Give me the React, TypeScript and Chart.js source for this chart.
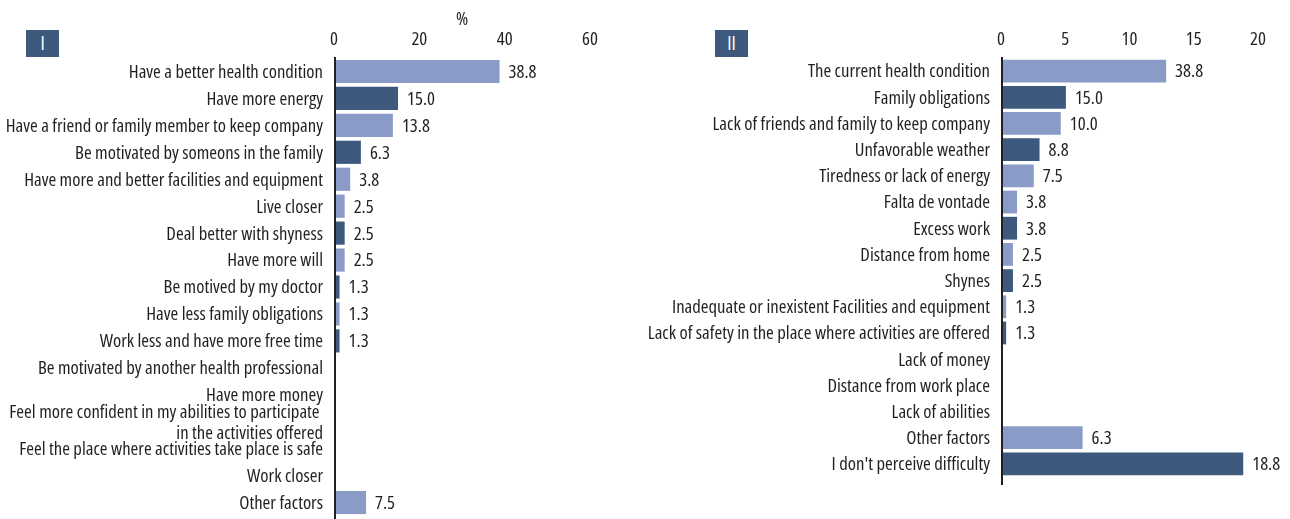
import React, { useEffect, useRef } from "react";
import { Chart, registerables } from "chart.js";

Chart.register(...registerables);

const FAMILY = "'Open Sans', 'DejaVu Sans Condensed', sans-serif";
const FONT_SIZE = 18.7;
const TEXT = "#231f20";
const LIGHT = "#8b9bc7";
const DARK = "#3d5a7e";

// Panel I
const leftCategories: (string | string[])[] = [
  "Have a better health condition",
  "Have more energy",
  "Have a friend or family member to keep company",
  "Be motivated by someons in the family",
  "Have more and better facilities and equipment",
  "Live closer",
  "Deal better with shyness",
  "Have more will",
  "Be motived by my doctor",
  "Have less family obligations",
  "Work less and have more free time",
  "Be motivated by another health professional",
  "Have more money",
  ["Feel more confident in my abilities to participate ", "in the activities offered"],
  "Feel the place where activities take place is safe",
  "Work closer",
  "Other factors",
];
const leftValues = [38.8, 15.0, 13.8, 6.3, 3.8, 2.5, 2.5, 2.5, 1.3, 1.3, 1.3, 0, 0, 0, 0, 0, 7.5];
const leftLabels = ["38.8", "15.0", "13.8", "6.3", "3.8", "2.5", "2.5", "2.5", "1.3", "1.3", "1.3", "", "", "", "", "", "7.5"];
const leftShades = ["L", "D", "L", "D", "L", "L", "D", "L", "D", "L", "D", "L", "L", "L", "L", "L", "L"];
const leftMax = 60;
const leftStep = 20;
const leftAxisTitle = "%";

// Panel II
const rightCategories: (string | string[])[] = [
  "The current health condition",
  "Family obligations",
  "Lack of friends and family to keep company",
  "Unfavorable weather",
  "Tiredness or lack of energy",
  "Falta de vontade",
  "Excess work",
  "Distance from home",
  "Shynes",
  "Inadequate or inexistent Facilities and equipment",
  "Lack of safety in the place where activities are offered",
  "Lack of money",
  "Distance from work place",
  "Lack of abilities",
  "Other factors",
  "I don't perceive difficulty",
];
const rightValues = [12.85, 5.05, 4.65, 3.0, 2.55, 1.25, 1.25, 0.93, 0.93, 0.4, 0.4, 0, 0, 0, 6.35, 18.85];
const rightLabels = ["38.8", "15.0", "10.0", "8.8", "7.5", "3.8", "3.8", "2.5", "2.5", "1.3", "1.3", "", "", "", "6.3", "18.8"];
const rightShades = ["L", "D", "L", "D", "L", "L", "D", "L", "D", "L", "D", "L", "L", "L", "L", "D"];
const rightMax = 20;
const rightStep = 5;

type PanelProps = {
  left: number;
  width: number;
  categories: (string | string[])[];
  values: number[];
  labels: string[];
  shades: string[];
  max: number;
  step: number;
  title?: string;
  yWidth: number;
  xHeight: number;
  padRight: number;
  padBottom: number;
  barPct: number;
  lineExtra: number;
};

function setFont(ctx: CanvasRenderingContext2D) {
  ctx.font = `${FONT_SIZE}px ${FAMILY}`;
  (ctx as any).fontStretch = "condensed";
  ctx.fillStyle = TEXT;
}

function Panel(p: PanelProps) {
  const ref = useRef<HTMLCanvasElement>(null);
  useEffect(() => {
    const texts = {
      id: "texts",
      afterDatasetsDraw(chart: any) {
        const { ctx, chartArea } = chart;
        const xs = chart.scales.x;
        const ys = chart.scales.y;
        const meta = chart.getDatasetMeta(0);
        ctx.save();
        setFont(ctx);
        ctx.textBaseline = "alphabetic";
        const capHalf = 6.4;
        // category labels
        ctx.textAlign = "right";
        p.categories.forEach((c, i) => {
          const y = ys.getPixelForValue(i);
          const lines = Array.isArray(c) ? c : [c];
          const lh = 21;
          const y0 = y - ((lines.length - 1) * lh) / 2;
          lines.forEach((ln, k) => ctx.fillText(ln, chartArea.left - 11, y0 + k * lh + capHalf));
        });
        // value labels
        ctx.textAlign = "left";
        meta.data.forEach((el: any, i: number) => {
          const t = p.labels[i];
          if (t) ctx.fillText(t, el.x + 9, el.y + capHalf);
        });
        // x tick labels
        ctx.textAlign = "center";
        xs.ticks.forEach((t: any) => {
          ctx.fillText(String(t.value), xs.getPixelForValue(t.value), 45);
        });
        if (p.title) {
          ctx.fillText(p.title, (chartArea.left + chartArea.right) / 2, 25);
        }
        // axis line
        ctx.fillRect(chartArea.left, chartArea.top - 1, 2, chartArea.bottom - chartArea.top + 1 + p.lineExtra);
        ctx.restore();
      },
    };
    const chart = new Chart(ref.current!, {
      type: "bar",
      data: {
        labels: p.categories,
        datasets: [
          {
            data: p.values,
            backgroundColor: p.shades.map((s) => (s === "D" ? DARK : LIGHT)),
            barPercentage: p.barPct,
            categoryPercentage: 1,
          },
        ],
      },
      options: {
        indexAxis: "y",
        responsive: false,
        animation: false,
        layout: { padding: { top: 0, right: p.padRight, bottom: p.padBottom, left: 0 } },
        plugins: { legend: { display: false }, tooltip: { enabled: false } },
        scales: {
          x: {
            position: "top",
            min: 0,
            max: p.max,
            ticks: { stepSize: p.step, display: false },
            grid: { display: false, drawTicks: false },
            border: { display: false },
            afterFit: (s: any) => {
              s.height = p.xHeight;
              s.paddingLeft = 0;
              s.paddingRight = 0;
            },
          },
          y: {
            ticks: { display: false, autoSkip: false },
            grid: { display: false, drawTicks: false },
            border: { display: false },
            afterFit: (s: any) => {
              s.width = p.yWidth;
              s.paddingTop = 0;
              s.paddingBottom = 0;
            },
          },
        },
      } as any,
      plugins: [texts],
    });
    return () => chart.destroy();
  }, []);
  return (
    <canvas
      ref={ref}
      width={p.width}
      height={519}
      style={{ position: "absolute", left: p.left, top: 0, width: p.width, height: 519 }}
    />
  );
}

function Badge({ left, text }: { left: number; text: string }) {
  return (
    <div
      style={{
        position: "absolute",
        left,
        top: 30,
        width: 33,
        height: 27,
        background: DARK,
        color: "#fff",
        fontFamily: FAMILY,
        fontStretch: "condensed",
        fontSize: 19,
        lineHeight: "27px",
        textAlign: "center",
      }}
    >
      {text}
    </div>
  );
}

export default function App() {
  return (
    <div style={{ position: "absolute", left: 0, top: 0, width: 1290, height: 519, background: "#fff", overflow: "hidden" }}>
      <Panel
        left={0}
        width={600}
        categories={leftCategories}
        values={leftValues}
        labels={leftLabels}
        shades={leftShades}
        max={leftMax}
        step={leftStep}
        title={leftAxisTitle}
        yWidth={334}
        xHeight={58}
        padRight={10}
        padBottom={3}
        barPct={0.86}
        lineExtra={5}
      />
      <Panel
        left={600}
        width={690}
        categories={rightCategories}
        values={rightValues}
        labels={rightLabels}
        shades={rightShades}
        max={rightMax}
        step={rightStep}
        yWidth={401}
        xHeight={58}
        padRight={32}
        padBottom={42}
        barPct={0.87}
        lineExtra={8}
      />
      <Badge left={26} text="I" />
      <Badge left={715} text="II" />
    </div>
  );
}
